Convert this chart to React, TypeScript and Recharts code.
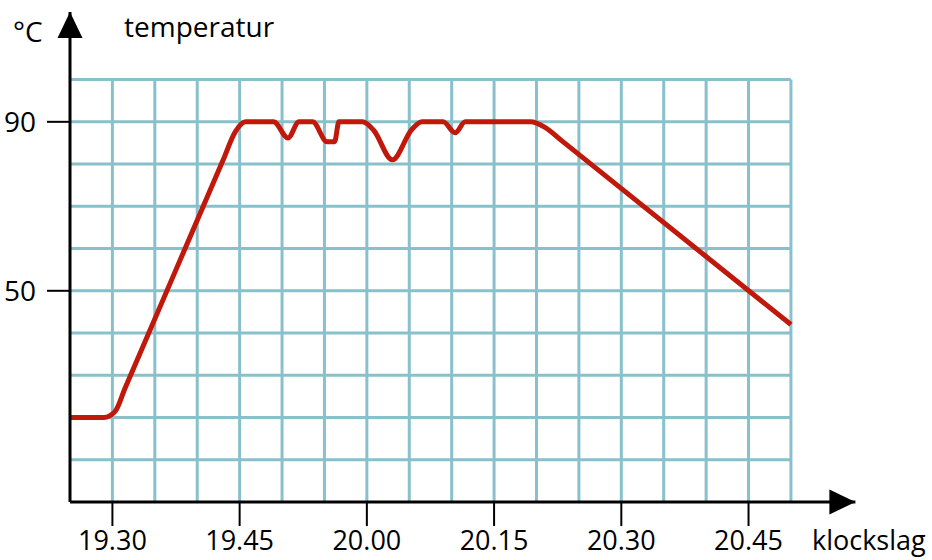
import React from 'react';
import { LineChart, Line, XAxis, YAxis, ReferenceLine, ReferenceDot, Label } from 'recharts';

const minutes = [0, 4, 5.3, 6.5, 18, 19.5, 20.7, 24, 25.7, 27, 28.6, 30.3, 31.2, 31.7, 34.5, 35.8, 38, 40.3, 41.5, 44, 45.4, 46.6, 54.3, 56, 58, 85];
const temps = [20, 20, 21.4, 27, 80.7, 87.7, 90, 90, 86.2, 90, 90, 85.3, 85.3, 90, 90, 88, 81, 88.2, 90, 90, 87.4, 90, 90, 88.7, 85.5, 42];

const timeTicks = [5, 20, 35, 50, 65, 80];
const timeLabels = ['19.30', '19.45', '20.00', '20.15', '20.30', '20.45'];
const tempTicks = [50, 90];

const gridMinutes = [5, 10, 15, 20, 25, 30, 35, 40, 45, 50, 55, 60, 65, 70, 75, 80, 85];
const gridTemps = [10, 20, 30, 40, 50, 60, 70, 80, 90, 100];

const data = minutes.map((m, i) => ({ m, t: temps[i] }));

const GRID = '#88C1CB';
const RED = '#C0180A';
const FONT = '"Open Sans", sans-serif';
const FS = 28;
const X_MAX = 92.6;
const Y_MAX = 116;

const UpArrow = (props: any) => (
    <polygon points={`${props.cx},${props.cy} ${props.cx - 12.5},${props.cy + 26} ${props.cx + 12.5},${props.cy + 26}`} fill="#000" />
);
const RightArrow = (props: any) => (
    <polygon points={`${props.cx},${props.cy} ${props.cx - 26},${props.cy - 12.5} ${props.cx - 26},${props.cy + 12.5}`} fill="#000" />
);

export default function App() {
    return (
        <div style={{ position: 'absolute', left: 0, top: 0, width: 932, height: 560, background: '#fff', fontFamily: FONT }}>
            <LineChart width={932} height={560} data={data} margin={{ top: 12, right: 932 - 70 - 785.4, bottom: 0, left: 0 }}>
                {gridMinutes.map((g) => (
                    <ReferenceLine key={'v' + g} segment={[{ x: g, y: 0 }, { x: g, y: 100 }]} stroke={GRID} strokeWidth={3} ifOverflow="visible" />
                ))}
                {gridTemps.map((g) => (
                    <ReferenceLine key={'h' + g} segment={[{ x: 0, y: g }, { x: 85, y: g }]} stroke={GRID} strokeWidth={3} ifOverflow="visible" />
                ))}
                <XAxis
                    type="number"
                    dataKey="m"
                    domain={[0, X_MAX]}
                    ticks={timeTicks}
                    tickFormatter={(v) => timeLabels[timeTicks.indexOf(v)]}
                    height={58}
                    axisLine={{ stroke: '#000', strokeWidth: 3 }}
                    tickLine={{ stroke: '#000', strokeWidth: 2 }}
                    tickSize={24}
                    tickMargin={5}
                    tick={{ fontSize: 27, fill: '#000', fontFamily: FONT }}
                    allowDataOverflow
                >
                    <Label
                        content={() => (
                            <text x={812} y={550} fontSize={27} fill="#000" fontFamily={FONT}>klockslag</text>
                        )}
                    />
                </XAxis>
                <YAxis
                    type="number"
                    domain={[0, Y_MAX]}
                    ticks={tempTicks}
                    width={70}
                    axisLine={{ stroke: '#000', strokeWidth: 3 }}
                    tickLine={{ stroke: '#000', strokeWidth: 2 }}
                    tickSize={23}
                    tickMargin={11}
                    tick={{ fontSize: FS, fill: '#000', fontFamily: FONT }}
                    allowDataOverflow
                >
                    <Label
                        content={() => (
                            <g>
                                <text x={13} y={42} fontSize={FS} fill="#000" fontFamily={FONT}>°C</text>
                                <text x={124} y={37} fontSize={FS} fill="#000" fontFamily={FONT}>temperatur</text>
                            </g>
                        )}
                    />
                </YAxis>
                <Line
                    type="monotone"
                    dataKey="t"
                    stroke={RED}
                    strokeWidth={5}
                    dot={false}
                    activeDot={false}
                    isAnimationActive={false}
                />
                <ReferenceDot x={0} y={Y_MAX} r={0} shape={UpArrow} ifOverflow="visible" />
                <ReferenceDot x={X_MAX} y={0} r={0} shape={RightArrow} ifOverflow="visible" />
            </LineChart>
        </div>
    );
}
